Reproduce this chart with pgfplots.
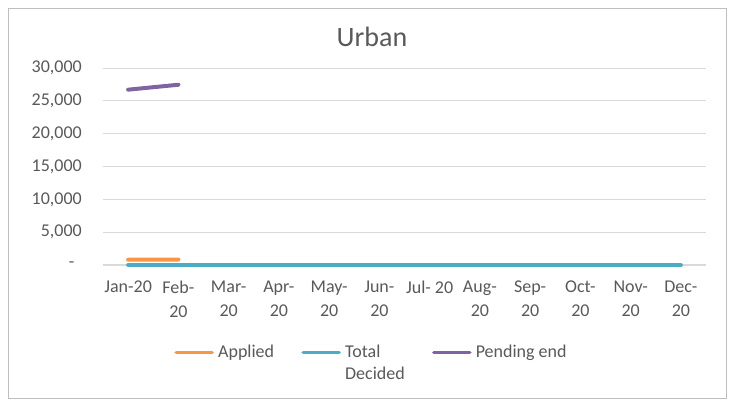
\documentclass[border=0pt]{standalone}
\usepackage{pgfplots}
\pgfplotsset{compat=1.18}
\usepackage{fontspec}
\setmainfont{Carlito}
\definecolor{cApplied}{RGB}{247,150,70}
\definecolor{cDecided}{RGB}{75,172,198}
\definecolor{cPending}{RGB}{128,100,162}
\definecolor{txt}{RGB}{89,89,89}
\definecolor{grid}{RGB}{217,217,217}
\definecolor{frame}{RGB}{190,190,190}
\begin{document}
\begin{tikzpicture}[x=1bp,y=1bp]
\path[use as bounding box] (0,0) rectangle (733,406);
\draw[color=frame, line width=0.8bp] (8,8) rectangle (726,398);
\begin{axis}[
  at={(103bp,141bp)}, anchor=south west,
  scale only axis, width=603bp, height=197bp,
  xmin=-0.5, xmax=11.5, ymin=0, ymax=30000,
  scaled y ticks=false,
  xtick={0,...,11},
  xticklabels={Jan-20,{Feb-\\20},{Mar-\\20},{Apr-\\20},{May-\\20},{Jun-\\20},{Jul- 20},{Aug-\\20},{Sep-\\20},{Oct-\\20},{Nov-\\20},{Dec-\\20}},
  xticklabel style={align=center, font=\fontsize{18bp}{24bp}\selectfont, text=txt, anchor=north, inner sep=0pt, yshift=-16bp},
  ytick={0,5000,10000,15000,20000,25000,30000},
  yticklabels={{\makebox[13bp][l]{-}},{5,000},{10,000},{15,000},{20,000},{25,000},{30,000}},
  yticklabel style={font=\fontsize{18bp}{22bp}\selectfont, text=txt, anchor=east, inner sep=0pt, xshift=-21bp},
  ymajorgrids, grid style={color=grid, line width=0.8bp},
  axis line style={draw=none},
  major tick length=0pt,
  title={Urban},
  title style={font=\fontsize{28bp}{32bp}\selectfont, text=txt, at={(0.446,1)}, anchor=base, yshift=16bp},
  legend columns=3,
  legend style={draw=none, at={(0.1144,-0.38)}, anchor=north west, inner sep=0pt,
    font=\fontsize{18bp}{22bp}\selectfont, text=txt,
    cells={anchor=base west, inner sep=0pt},
    /tikz/every even column/.append style={column sep=23bp}},
  legend image code/.code={\draw[#1, line width=3.5bp, line cap=round] (2bp,5bp) -- (38bp,5bp); \path (0bp,0bp) (40bp,0bp);},
  clip=false,
]
\draw[color=grid, line width=1.2bp] (axis cs:-0.5,0) -- (axis cs:11.5,0);
\addplot[cApplied, line width=4bp, line cap=round] coordinates {(0,800) (1,830)};
\addlegendentry{Applied}
\addplot[cDecided, line width=4bp, line cap=round] coordinates {(0,0) (1,0) (2,0) (3,0) (4,0) (5,0) (6,0) (7,0) (8,0) (9,0) (10,0) (11,0)};
\addlegendentry{\begin{tabular}[t]{@{}l@{}}Total\\Decided\end{tabular}}
\addplot[cPending, line width=4bp, line cap=round] coordinates {(0,26700) (1,27450)};
\addlegendentry{Pending end}
\end{axis}
\end{tikzpicture}
\end{document}
